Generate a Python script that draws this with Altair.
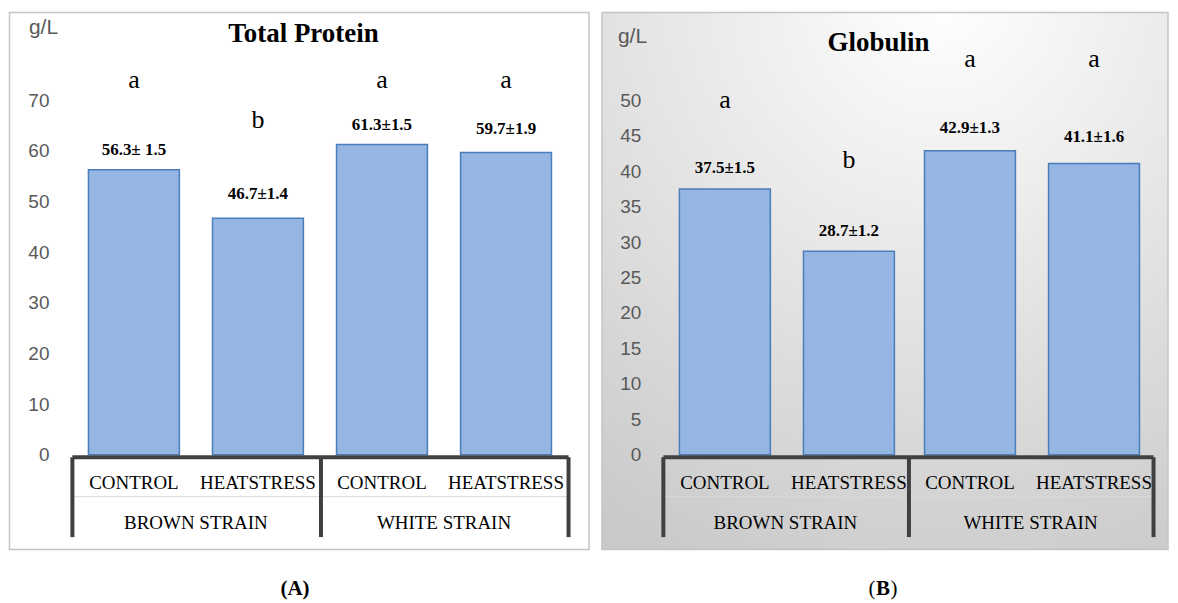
import altair as alt
import pandas as pd

# ---------------- data ----------------
strains = ["BROWN STRAIN", "BROWN STRAIN", "WHITE STRAIN", "WHITE STRAIN"]
treatments = ["CONTROL", "HEATSTRESS", "CONTROL", "HEATSTRESS"]
strain_order = ["BROWN STRAIN", "WHITE STRAIN"]
treat_order = ["CONTROL", "HEATSTRESS"]

tp_values = [56.3, 46.7, 61.3, 59.7]
tp_labels = ["56.3\u00b1 1.5", "46.7\u00b11.4", "61.3\u00b11.5", "59.7\u00b11.9"]
tp_letters = ["a", "b", "a", "a"]
tp_label_at = [60.2, 51.5, 65.1, 64.3]
tp_letter_at = [74.0, 66.1, 74.0, 74.0]
tp_ticks = [0, 10, 20, 30, 40, 50, 60, 70]

gl_values = [37.5, 28.7, 42.9, 41.1]
gl_labels = ["37.5\u00b11.5", "28.7\u00b11.2", "42.9\u00b11.3", "41.1\u00b11.6"]
gl_letters = ["a", "b", "a", "a"]
gl_label_at = [40.4, 31.6, 46.1, 44.8]
gl_letter_at = [50.0, 41.6, 55.8, 55.8]
gl_ticks = [0, 5, 10, 15, 20, 25, 30, 35, 40, 45, 50]

H = 355
SERIF = "Liberation Serif"
SANS = "Liberation Sans"
DARK = "#404040"
GRAY_TXT = "#595959"


def panel(values, labels, letters, label_at, letter_at, ticks, width,
          title, title_xy, unit_xy, frame, frame_fill, label_pad, caption):
    df = pd.DataFrame(dict(strain=strains, treatment=treatments, value=values,
                           label=labels, letter=letters, label_at=label_at,
                           letter_at=letter_at))
    one = pd.DataFrame({"k": [0]})
    sdf = pd.DataFrame({"strain": strain_order})
    ymax = ticks[-1]
    yscale = alt.Scale(domain=[0, ymax], nice=False, zero=True)
    xscale = alt.Scale(paddingInner=0, paddingOuter=0)
    xoscale = alt.Scale(paddingInner=0.267, paddingOuter=0.1335)

    x_axis = alt.Axis(title=None, labels=False, grid=False,
                      domainColor=DARK, domainWidth=4,
                      tickColor=DARK, tickWidth=4, tickSize=80,
                      tickBand="extent", offset=2, zindex=2)
    y_axis = alt.Axis(title=None, domain=False, ticks=False, grid=False,
                      values=ticks, labelFont=SANS, labelFontSize=19,
                      labelColor=GRAY_TXT, labelPadding=label_pad, zindex=2)
    x_enc = alt.X("strain:N", sort=strain_order, scale=xscale, axis=x_axis)
    xo_enc = alt.XOffset("treatment:N", sort=treat_order, scale=xoscale)

    fx1, fx2, fy1, fy2 = frame
    frame_layer = alt.Chart(one).mark_rect(
        fill=frame_fill, stroke="#c4c4c4", strokeWidth=1.5
    ).encode(x=alt.value(fx1), x2=alt.value(fx2), y=alt.value(fy1), y2=alt.value(fy2))

    bars = alt.Chart(df).mark_bar(
        fill="#95B5E2", stroke="#4A7EBB", strokeWidth=1.5
    ).encode(
        x=x_enc, xOffset=xo_enc,
        y=alt.Y("value:Q", scale=yscale, axis=y_axis),
    )

    val_text = alt.Chart(df).mark_text(
        font=SERIF, fontWeight="bold", fontSize=17, color="black",
        baseline="middle", align="center"
    ).encode(x=x_enc, xOffset=xo_enc,
             y=alt.Y("label_at:Q", scale=yscale, axis=y_axis), text="label:N")

    let_text = alt.Chart(df).mark_text(
        font=SERIF, fontSize=26, color="black", baseline="middle", align="center"
    ).encode(x=x_enc, xOffset=xo_enc,
             y=alt.Y("letter_at:Q", scale=yscale, axis=y_axis), text="letter:N")

    treat_text = alt.Chart(df).mark_text(
        font=SERIF, fontSize=19, color="black", baseline="middle", align="center"
    ).encode(x=x_enc, xOffset=xo_enc, y=alt.value(383), text="treatment:N")

    strain_text = alt.Chart(sdf).mark_text(
        font=SERIF, fontSize=19, color="black", baseline="middle", align="center"
    ).encode(x=x_enc, y=alt.value(423), text="strain:N")

    sep_rule = alt.Chart(one).mark_rule(color="#d9d9d9", strokeWidth=1).encode(
        x=alt.value(0), x2=alt.value(width), y=alt.value(397))

    title_layer = alt.Chart(one).mark_text(
        text=title, font=SERIF, fontWeight="bold", fontSize=27, color="black",
        align="center", baseline="middle"
    ).encode(x=alt.value(title_xy[0]), y=alt.value(title_xy[1]))

    unit_layer = alt.Chart(one).mark_text(
        text="g/L", font=SANS, fontSize=21, color=GRAY_TXT,
        align="left", baseline="middle"
    ).encode(x=alt.value(unit_xy[0]), y=alt.value(unit_xy[1]))

    cap_layers = []
    for txt, weight, dx in caption:
        cap_layers.append(alt.Chart(one).mark_text(
            text=txt, font=SERIF, fontWeight=weight, fontSize=21, color="black",
            align="center", baseline="middle", dx=dx
        ).encode(x=alt.value(width / 2 - 25), y=alt.value(490)))

    return alt.layer(frame_layer, sep_rule, bars, val_text, let_text, treat_text,
                     strain_text, title_layer, unit_layer, *cap_layers
                     ).properties(width=width, height=H)


left = panel(tp_values, tp_labels, tp_letters, tp_label_at, tp_letter_at, tp_ticks,
             497, "Total Protein", (232, -66), (-43, -72),
             (-62.5, 518, -88, 450), "white", 23,
             [("(A)", "bold", 0)])

grad = alt.RadialGradient(
    gradient="radial",
    stops=[alt.GradientStop(offset=0, color="#ffffff"),
           alt.GradientStop(offset=1, color="#c9c9c9")],
    x1=0.6, y1=0, r1=0, x2=0.6, y2=0, r2=1.1)

right = panel(gl_values, gl_labels, gl_letters, gl_label_at, gl_letter_at, gl_ticks,
              491, "Globulin", (216, -57), (-45, -63),
              (-61, 506, -88, 450), grad, 22,
              [("(", "normal", -11), ("B", "bold", 0), (")", "normal", 11)])

chart = alt.hconcat(left, right, spacing=95, bounds="flush").properties(
    padding={"left": 0, "top": 2, "right": 0, "bottom": 0}
).configure_view(strokeWidth=0).configure(background="white")

chart.save("out.html", embed_options={"renderer": "svg", "actions": False})
